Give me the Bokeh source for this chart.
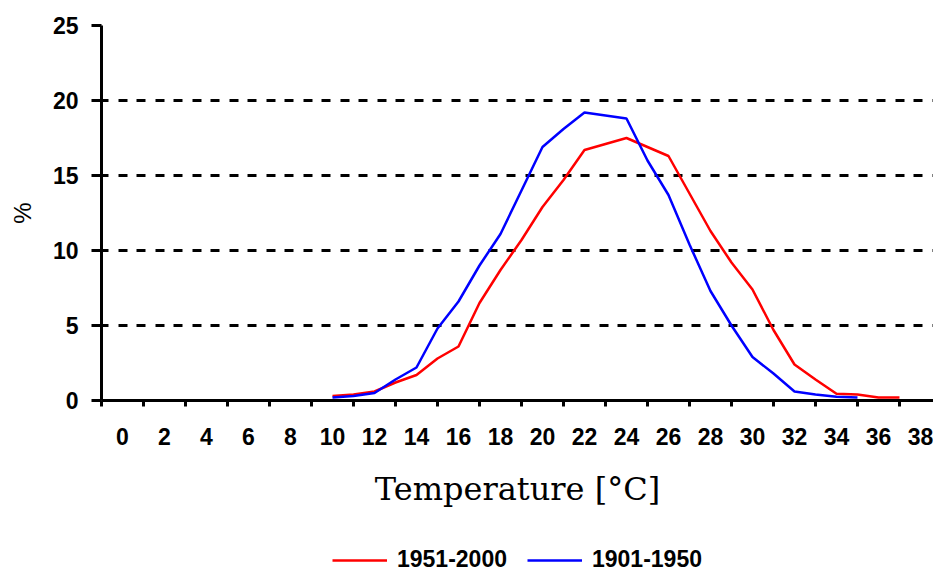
from bokeh.plotting import figure
from bokeh.layouts import column
from bokeh.models import Range1d, FixedTicker, Grid, Legend, LegendItem
from bokeh.embed import file_html
from bokeh.resources import INLINE

# ---- data ----
temps_1951_2000 = list(range(10, 38))
pct_1951_2000 = [0.3, 0.4, 0.6, 1.2, 1.7, 2.8, 3.6, 6.5, 8.7, 10.7, 12.9, 14.7,
                 16.7, 17.1, 17.5, 16.9, 16.3, 13.8, 11.3, 9.2, 7.4, 4.7, 2.4,
                 1.4, 0.45, 0.4, 0.2, 0.2]

temps_1901_1950 = list(range(10, 36))
pct_1901_1950 = [0.2, 0.3, 0.5, 1.4, 2.2, 4.8, 6.6, 9.0, 11.1, 14.0, 16.9, 18.1,
                 19.2, 19.0, 18.8, 16.0, 13.7, 10.4, 7.3, 5.0, 2.9, 1.8, 0.6,
                 0.4, 0.25, 0.2]

x_tick_labels = list(range(0, 39, 2))          # 0, 2, ..., 38
x_tick_marks = list(range(-1, 38, 2))          # category boundaries
y_ticks = [0, 5, 10, 15, 20, 25]
y_dashed_grid = [5, 10, 15, 20]
y_solid_grid = [25]

series_labels = ["1951-2000", "1901-1950"]
series_colors = ["#ff0000", "#0000ff"]

p = figure(width=933, height=520,
           x_range=Range1d(-1, 38.62), y_range=Range1d(0, 25),
           output_backend="svg", toolbar_location=None,
           min_border_left=101, min_border_right=0,
           min_border_top=25, min_border_bottom=120)
p.outline_line_color = None
p.background_fill_color = "white"
p.border_fill_color = "white"

# x axis
xa = p.xaxis[0]
xa.ticker = FixedTicker(ticks=x_tick_labels, minor_ticks=x_tick_marks)
xa.major_tick_out = 0
xa.major_tick_in = 0
xa.minor_tick_out = 6
xa.minor_tick_in = 0
xa.minor_tick_line_width = 3
xa.minor_tick_line_color = "black"
xa.axis_line_width = 3
xa.axis_line_color = "black"
xa.major_label_standoff = 21
xa.major_label_text_font = "Liberation Sans"
xa.major_label_text_font_style = "bold"
xa.major_label_text_font_size = "23px"
xa.major_label_text_color = "black"
xa.axis_label = "Temperature [°C]"
xa.axis_label_text_font = "DejaVu Serif"
xa.axis_label_text_font_style = "normal"
xa.axis_label_text_font_size = "32px"
xa.axis_label_text_color = "black"
xa.axis_label_standoff = 22

# y axis
ya = p.yaxis[0]
ya.ticker = FixedTicker(ticks=y_ticks, minor_ticks=[])
ya.major_tick_out = 10
ya.major_tick_in = 0
ya.major_tick_line_width = 3
ya.major_tick_line_color = "black"
ya.minor_tick_out = 0
ya.minor_tick_in = 0
ya.axis_line_width = 3
ya.axis_line_color = "black"
ya.major_label_standoff = 13
ya.major_label_text_font = "Liberation Sans"
ya.major_label_text_font_style = "bold"
ya.major_label_text_font_size = "23px"
ya.major_label_text_color = "black"
ya.axis_label = "%"
ya.axis_label_text_font = "Liberation Sans"
ya.axis_label_text_font_style = "normal"
ya.axis_label_text_font_size = "24px"
ya.axis_label_text_color = "black"
ya.axis_label_standoff = 14

# grids
p.xgrid.visible = False
p.ygrid.ticker = FixedTicker(ticks=y_dashed_grid)
p.ygrid.grid_line_color = "black"
p.ygrid.grid_line_width = 3
p.ygrid.grid_line_dash = "9 10 9 9"
p.ygrid.grid_line_dash_offset = 2
top_grid = Grid(dimension=1, ticker=FixedTicker(ticks=y_solid_grid),
                grid_line_color="black", grid_line_width=3)
p.add_layout(top_grid)

# series
r1 = p.line(temps_1951_2000, pct_1951_2000, line_color=series_colors[0], line_width=2.5)
r2 = p.line(temps_1901_1950, pct_1901_1950, line_color=series_colors[1], line_width=2.5)

# legend strip beneath the chart
lg = figure(width=933, height=52, output_backend="svg", toolbar_location=None,
            x_axis_type=None, y_axis_type=None,
            min_border_left=0, min_border_right=0, min_border_top=0, min_border_bottom=0)
lg.outline_line_color = None
lg.xgrid.visible = False
lg.ygrid.visible = False
l1 = lg.line(temps_1951_2000, pct_1951_2000, line_color=series_colors[0], line_width=2.5)
l2 = lg.line(temps_1901_1950, pct_1901_1950, line_color=series_colors[1], line_width=2.5)
l1.visible = False
l2.visible = False

legend = Legend(items=[LegendItem(label=series_labels[0], renderers=[l1]),
                       LegendItem(label=series_labels[1], renderers=[l2])],
                location=(231, -1), orientation="horizontal",
                glyph_width=55, glyph_height=20, label_standoff=10, spacing=20,
                padding=0, margin=0, border_line_color=None,
                background_fill_alpha=0, inactive_fill_alpha=0,
                label_text_font="Liberation Sans", label_text_font_style="bold",
                label_text_font_size="23px", label_text_color="black")
lg.add_layout(legend)

layout = column(p, lg, spacing=0)
open("out.html", "w").write(file_html(layout, INLINE))
